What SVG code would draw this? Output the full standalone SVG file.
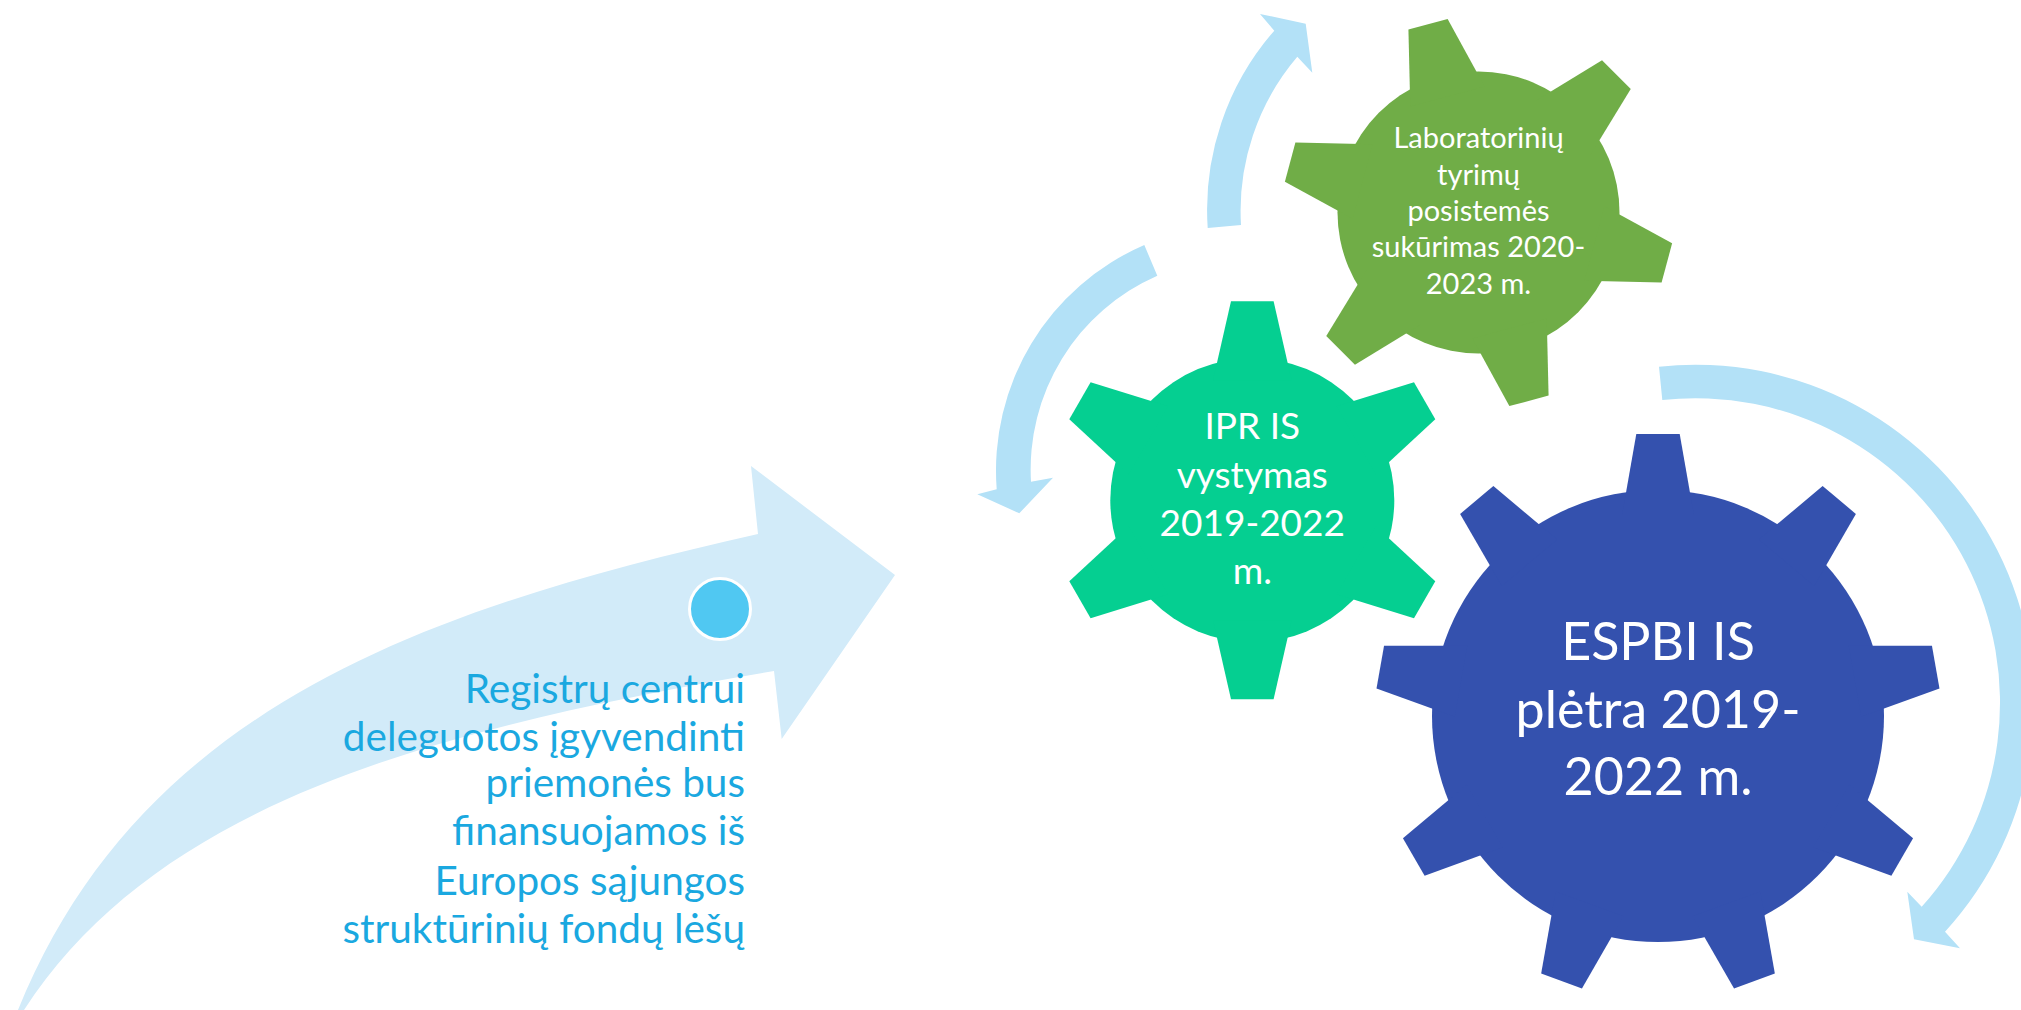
<svg xmlns="http://www.w3.org/2000/svg" xmlns:xlink="http://www.w3.org/1999/xlink" width="2021" height="1010" viewBox="0 0 2021 1010">
  <style>
    .t { font-family: Lato, "Noto Sans", "Liberation Sans", sans-serif; }
    .white { fill: #ffffff; text-anchor: middle; }
    .side { fill: #1aa8e0; text-anchor: end; font-size: 40.5px; }
    .cyc { fill: #b3e1f7; }
    .lab { fill: #70ad47; }
    .ipr { fill: #05cf91; }
    .esp { fill: #3451ae; }
  </style>
  <defs>
    <polygon id="tooth-lab" points="-38.5,-120 -20.3,-195 20.3,-195 38.5,-120"/>
    <polygon id="tooth-ipr" points="-39.3,-120 -21.3,-199 21.3,-199 39.3,-120"/>
    <polygon id="tooth-esp" points="-36.1,-200 -21.7,-282 21.7,-282 36.1,-200"/>
  </defs>

  <!-- big rising arrow -->
  <g id="rising-arrow">
    <path fill="#d2ebf9" d="M 18,1010 C 140,710 420,610 758,534 L 751,466 L 895,575 L 781.7,739 L 774,671 C 440,728 160,800 24,1010 Z"/>
  </g>

  <g id="funding-text" class="t side">
    <text x="745" y="702.7">Registrų centrui</text>
    <text x="745" y="750.5">deleguotos įgyvendinti</text>
    <text x="745" y="797">priemonės bus</text>
    <text x="745" y="845">finansuojamos iš</text>
    <text x="745" y="894.5">Europos sąjungos</text>
    <text x="745" y="943">struktūrinių fondų lėšų</text>
  </g>

  <g id="marker-dot">
    <circle cx="720" cy="609" r="30.5" fill="#50c8f2" stroke="#ffffff" stroke-width="3"/>
  </g>

  <!-- cycle connectors -->
  <g id="connectors" class="cyc">
    <path d="M 1207.7,228 A 272 272 0 0 1 1274.3,30.7 L 1260,14 L 1305.7,23.7 L 1312.3,72.7 L 1297.3,56.7 A 238 238 0 0 0 1241,225 Z"/>
    <path d="M 1144.3,245 A 245.7 245.7 0 0 0 996.7,489.3 L 977.3,494.3 L 1019.3,513.3 L 1053,477.7 L 1031,481.7 A 211.5 211.5 0 0 1 1157.3,275.7 Z"/>
    <path d="M 1659,366.7 A 338.4 338.4 0 0 1 1945,931.7 L 1960,948.3 L 1914,939.3 L 1907.3,891.7 L 1921.7,906.7 A 304.6 304.6 0 0 0 1662.3,400 Z"/>
  </g>

  <!-- gear: laboratory -->
  <g id="gear-lab">
    <g class="lab" transform="translate(1478.5,212.5)">
      <circle r="141"/>
      <use xlink:href="#tooth-lab" href="#tooth-lab" transform="rotate(-15)"/>
      <use xlink:href="#tooth-lab" href="#tooth-lab" transform="rotate(45)"/>
      <use xlink:href="#tooth-lab" href="#tooth-lab" transform="rotate(105)"/>
      <use xlink:href="#tooth-lab" href="#tooth-lab" transform="rotate(165)"/>
      <use xlink:href="#tooth-lab" href="#tooth-lab" transform="rotate(225)"/>
      <use xlink:href="#tooth-lab" href="#tooth-lab" transform="rotate(285)"/>
    </g>
    <g class="t white" font-size="29">
      <text x="1478.5" y="148.3">Laboratorinių</text>
      <text x="1478.5" y="184.5">tyrimų</text>
      <text x="1478.5" y="220.7">posistemės</text>
      <text x="1478.5" y="257">sukūrimas 2020-</text>
      <text x="1478.5" y="294">2023 m.</text>
    </g>
  </g>

  <!-- gear: IPR -->
  <g id="gear-ipr">
    <g class="ipr" transform="translate(1252.3,500.2)">
      <circle r="142"/>
      <use xlink:href="#tooth-ipr" href="#tooth-ipr"/>
      <use xlink:href="#tooth-ipr" href="#tooth-ipr" transform="rotate(60)"/>
      <use xlink:href="#tooth-ipr" href="#tooth-ipr" transform="rotate(120)"/>
      <use xlink:href="#tooth-ipr" href="#tooth-ipr" transform="rotate(180)"/>
      <use xlink:href="#tooth-ipr" href="#tooth-ipr" transform="rotate(240)"/>
      <use xlink:href="#tooth-ipr" href="#tooth-ipr" transform="rotate(300)"/>
    </g>
    <g class="t white" font-size="37">
      <text x="1252.3" y="439.3">IPR IS</text>
      <text x="1252.3" y="488">vystymas</text>
      <text x="1252.3" y="536">2019-2022</text>
      <text x="1252.3" y="584.3">m.</text>
    </g>
  </g>

  <!-- gear: ESPBI -->
  <g id="gear-espbi">
    <g class="esp" transform="translate(1658,716)">
      <circle r="226"/>
      <use xlink:href="#tooth-esp" href="#tooth-esp"/>
      <use xlink:href="#tooth-esp" href="#tooth-esp" transform="rotate(40)"/>
      <use xlink:href="#tooth-esp" href="#tooth-esp" transform="rotate(80)"/>
      <use xlink:href="#tooth-esp" href="#tooth-esp" transform="rotate(120)"/>
      <use xlink:href="#tooth-esp" href="#tooth-esp" transform="rotate(160)"/>
      <use xlink:href="#tooth-esp" href="#tooth-esp" transform="rotate(200)"/>
      <use xlink:href="#tooth-esp" href="#tooth-esp" transform="rotate(240)"/>
      <use xlink:href="#tooth-esp" href="#tooth-esp" transform="rotate(280)"/>
      <use xlink:href="#tooth-esp" href="#tooth-esp" transform="rotate(320)"/>
    </g>
    <g class="t white" font-size="52">
      <text x="1658" y="660.3">ESPBI IS</text>
      <text x="1658" y="728">plėtra 2019-</text>
      <text x="1658" y="795">2022 m.</text>
    </g>
  </g>
</svg>
